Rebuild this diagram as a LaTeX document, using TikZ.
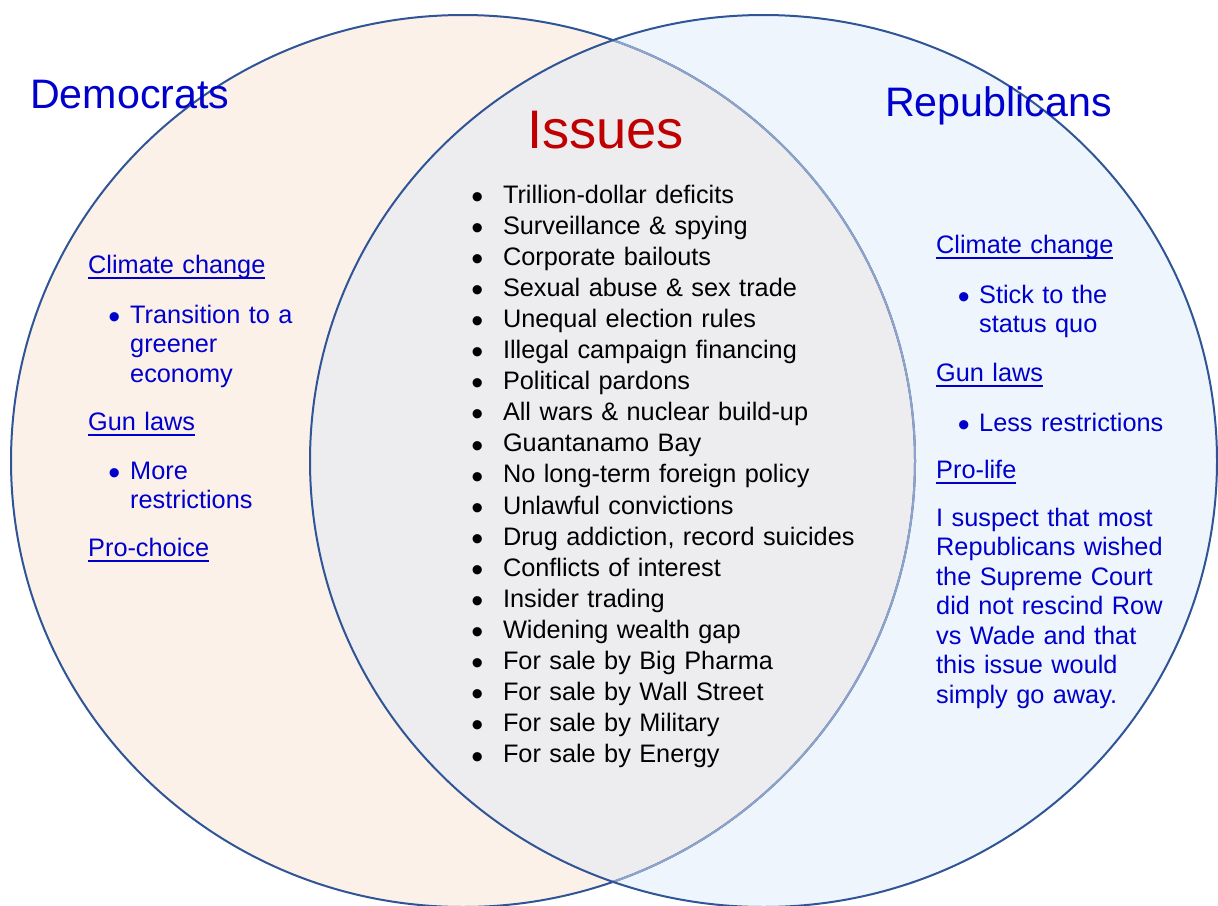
\documentclass[tikz,border=0pt]{standalone}
\usepackage{fontspec}
\setmainfont{Liberation Sans}
\usetikzlibrary{positioning,chains}

\definecolor{demfill}{HTML}{FBF1E9}
\definecolor{repfill}{HTML}{EEF5FC}
\definecolor{bothfill}{HTML}{EDEDF0}
\definecolor{rimblue}{HTML}{2F5597}
\definecolor{rimlight}{HTML}{8EA3C9}
\definecolor{partyblue}{HTML}{0000CC}
\definecolor{issuered}{HTML}{C00000}

% bullet hung left of the text, #1 = gap to the text
\newcommand\bul[1]{\llap{\raisebox{-5.2pt}{\fontsize{34}{34}\selectfont\textbullet}\hspace{#1}}}
% thick underline for the topic heads
\newcommand\topic[1]{\leavevmode\setbox0\hbox{#1}\rlap{\rule[-6pt]{\wd0}{2.4pt}}\box0}

\begin{document}
\begin{tikzpicture}
        [x=1pt, y=-1pt,
          side/.style={
            anchor=base west,
            inner sep=0pt,
            partyblue,
            text width=280pt,
            align=left,
            font=\fontsize{25.3}{29.7}\selectfont},
          issue/.style={
            on chain,
            inner sep=0pt,
            outer sep=0pt,
            text width=380pt,
            align=left,
            text height=18pt,
            text depth=5pt,
            font=\fontsize{25.3}{30}\selectfont},
          party/.style={
            anchor=base west,
            inner sep=0pt,
            partyblue,
            font=\fontsize{41.2}{45}\selectfont},
          start chain=issues going below,
          node distance = 8.1pt]
        \useasboundingbox (0,0) rectangle (1218,905);
        \clip (0,0) rectangle (1218,905);

        % the two sets
        \fill[demfill] (463,461) ellipse [x radius=452, y radius=446];
        \fill[repfill] (763.5,461) ellipse [x radius=453.5, y radius=446];
        \begin{scope}
          \clip (463,461) ellipse [x radius=452, y radius=446];
          \fill[bothfill] (763.5,461) ellipse [x radius=453.5, y radius=446];
        \end{scope}
        \draw[rimblue, line width=2pt] (463,461) ellipse [x radius=452, y radius=446];
        \begin{scope}
          \clip (763.5,461) ellipse [x radius=453.5, y radius=446];
          \draw[rimlight, line width=2pt] (463,461) ellipse [x radius=452, y radius=446];
        \end{scope}
        \draw[rimblue, line width=2pt] (763.5,461) ellipse [x radius=453.5, y radius=446];

        % headings
        \node[party] (dem) at (30,108) {Democrats};
        \node[party] (rep) at (885,116) {Republicans};
        \node[anchor=base west, inner sep=0pt, issuered,
              font=\fontsize{54.3}{58}\selectfont] (iss) at (527,148) {Issues};

        % shared issues
        \node[issue, anchor=north west] at (503,185) {\bul{19.7pt}Trillion-dollar deficits};
        \foreach \txt in {Surveillance \& spying, Corporate bailouts,
            Sexual abuse \& sex trade, Unequal election rules,
            Illegal campaign financing, Political pardons,
            All wars \& nuclear build-up, Guantanamo Bay,
            No long-term foreign policy, Unlawful convictions,
            {Drug addiction, record suicides}, Conflicts of interest,
            Insider trading, Widening wealth gap, For sale by Big Pharma,
            For sale by Wall Street, For sale by Military, For sale by Energy}
          \node[issue] {\bul{19.7pt}\txt};

        % democrats
        \node[side] (dclimate) at (88,273) {\topic{Climate change}};
        \node[side] (dgreen) at (130,323) {\bul{9.9pt}Transition to a\\greener\\economy};
        \node[side] (dgun) at (88,430) {\topic{Gun laws}};
        \node[side] (dmore) at (130,479) {\bul{9.9pt}More\\restrictions};
        \node[side] (dchoice) at (88,556) {\topic{Pro-choice}};

        % republicans
        \node[side] (rclimate) at (936,253) {\topic{Climate change}};
        \node[side] (rquo) at (979,303) {\bul{9.5pt}Stick to the\\status quo};
        \node[side] (rgun) at (936,381) {\topic{Gun laws}};
        \node[side] (rless) at (979,431) {\bul{9.5pt}Less restrictions};
        \node[side] (rlife) at (936,478) {\topic{Pro-life}};
        \node[side, font=\fontsize{25.3}{29.5}\selectfont] (rnote) at (936,526)
          {I suspect that most\\Republicans wished\\the Supreme Court\\did not rescind Row\\vs Wade and that\\this issue would\\simply go away.};
      \end{tikzpicture}
\end{document}
